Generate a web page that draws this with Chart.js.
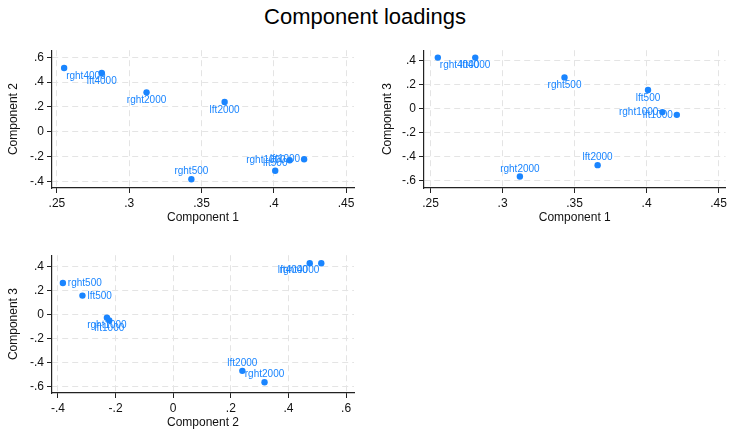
<!DOCTYPE html>
<html>
<head>
<meta charset="utf-8">
<script src="https://cdn.jsdelivr.net/npm/chart.js@4.4.1/dist/chart.umd.min.js"></script>
<style>
  body { margin: 0; background: #fff; width: 730px; height: 430px; position: relative; overflow: hidden;
         font-family: "Liberation Sans", Arial, sans-serif; }
  .title { position: absolute; left: 0; top: 4px; width: 730px; text-align: center; font-size: 22px; color: #000; }
  .panel { position: absolute; }
</style>
</head>
<body>
<div class="title">Component loadings</div>
<div class="panel" style="left:0;top:40px;width:358px;height:186px"><canvas id="c12"></canvas></div>
<div class="panel" style="left:370px;top:40px;width:360px;height:186px"><canvas id="c13"></canvas></div>
<div class="panel" style="left:0;top:245px;width:358px;height:185px"><canvas id="c23"></canvas></div>
<script>
const variables = ["lft500", "lft1000", "lft2000", "lft4000", "rght500", "rght1000", "rght2000", "rght4000"];
const comp1 = [0.401, 0.421, 0.366, 0.281, 0.343, 0.411, 0.312, 0.255];
const comp2 = [-0.315, -0.222, 0.240, 0.474, -0.383, -0.230, 0.317, 0.514];
const comp3 = [0.157, -0.051, -0.471, 0.427, 0.262, -0.028, -0.566, 0.427];

const ticksComp1 = [0.25, 0.3, 0.35, 0.4, 0.45];
const ticksComp2 = [-0.4, -0.2, 0, 0.2, 0.4, 0.6];
const ticksComp3 = [-0.6, -0.4, -0.2, 0, 0.2, 0.4];

const BLUE = "#1a85ff";
const FONT = '"Liberation Sans", Arial, sans-serif';
Chart.defaults.font.family = FONT;
Chart.defaults.color = "#111";

// where each marker label sits, as a clock position
const labelPos12 = [12, 9, 6, 6, 12, 9, 6, 5];
const labelPos13 = [6, 9, 12, 6, 6, 9, 12, 5];
const labelPos23 = [3, 6, 12, 7, 3, 6, 12, 7];
const clock = {
    12: [0, -7.5, "center"],
    3: [5, 0.5, "left"],
    5: [2, 8, "left"],
    6: [0, 8, "center"],
    7: [-2, 7.5, "right"],
    9: [-4, 0.5, "right"]
};

function fmt(v) {
    if (Math.abs(v) < 1e-9) return "0";
    return String(+v.toFixed(2)).replace("0.", ".");
}

function axis(ticks, min, max, title, size, titlePad) {
    return {
        type: "linear",
        min: min,
        max: max,
        afterBuildTicks: s => { s.ticks = ticks.map(v => ({ value: v })); },
        afterFit: s => {
            if (s.isHorizontal()) s.height = size; else s.width = size;
        },
        ticks: {
            callback: v => fmt(v),
            font: { size: 12 },
            color: "#111",
            padding: 3,
            maxRotation: 0,
            autoSkip: false
        },
        grid: {
            color: "#e4e4e4",
            lineWidth: 1,
            tickColor: "#222",
            tickLength: 5,
            drawTicks: true
        },
        border: { display: true, color: "#222", width: 1.2, dash: [6, 4] },
        title: {
            display: true,
            text: title,
            font: { size: 12 },
            color: "#111",
            padding: titlePad
        }
    };
}

function panel(id, xs, ys, labelPos, xAxis, yAxis, padRight) {
    const points = xs.map((x, i) => ({ x: x, y: ys[i] }));
    new Chart(document.getElementById(id), {
        type: "scatter",
        data: {
            datasets: [{
                data: points,
                pointRadius: 3.2,
                pointBackgroundColor: BLUE,
                pointBorderWidth: 0
            }]
        },
        options: {
            responsive: true,
            maintainAspectRatio: false,
            animation: false,
            layout: { padding: { top: 5, right: padRight, left: 0, bottom: 0 } },
            plugins: { legend: { display: false }, tooltip: { enabled: false } },
            scales: { x: xAxis, y: yAxis }
        },
        plugins: [{
            id: "markerLabels",
            afterDatasetsDraw(chart) {
                const ctx = chart.ctx;
                ctx.save();
                ctx.font = "10px " + FONT;
                ctx.fillStyle = BLUE;
                ctx.textBaseline = "middle";
                chart.getDatasetMeta(0).data.forEach((pt, i) => {
                    const off = clock[labelPos[i]];
                    ctx.textAlign = off[2];
                    ctx.fillText(variables[i], pt.x + off[0], pt.y + off[1]);
                });
                ctx.restore();
            }
        }]
    });
}

panel("c12", comp1, comp2, labelPos12,
    axis(ticksComp1, 0.2466, 0.4555, "Component 1", 38, { bottom: 1 }),
    axis(ticksComp2, -0.454, 0.657, "Component 2", 52, { top: 6 }), 2);

panel("c13", comp1, comp3, labelPos13,
    axis(ticksComp1, 0.2454, 0.4548, "Component 1", 38, { bottom: 1 }),
    axis(ticksComp3, -0.662, 0.489, "Component 3", 54, { top: 10 }), 2);

panel("c23", comp2, comp3, labelPos23,
    axis(ticksComp2, -0.4207, 0.6276, "Component 2", 37, { bottom: 0 }),
    axis(ticksComp3, -0.656, 0.494, "Component 3", 52, { top: 6 }), 2);
</script>
</body>
</html>
